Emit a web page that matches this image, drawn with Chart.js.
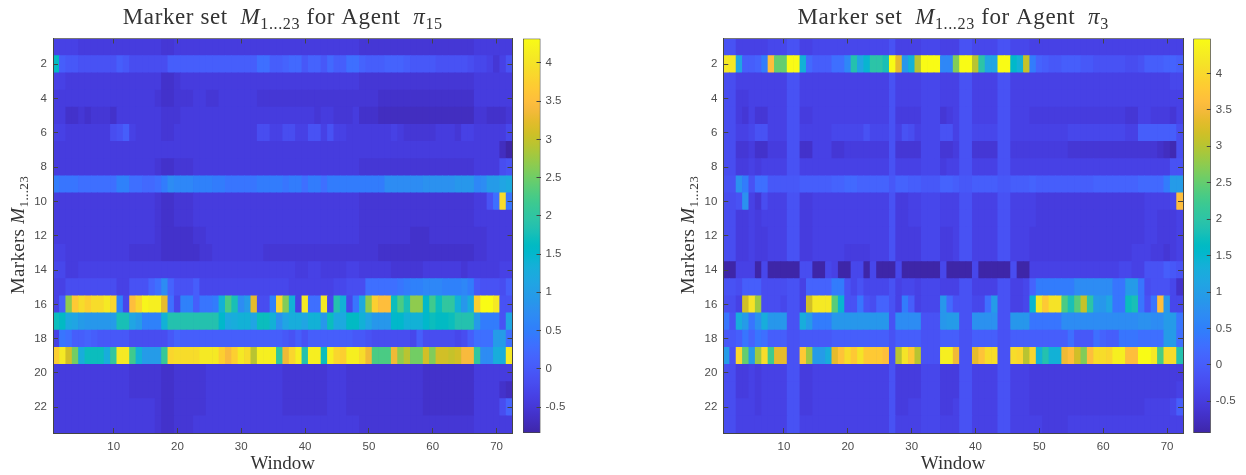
<!DOCTYPE html>
<html lang="en">
<head>
  <meta charset="UTF-8">
  <title>Marker set heatmaps</title>
  <script src="https://cdn.jsdelivr.net/npm/chart.js"></script>
  <style>
    body { margin: 0; background: #fff; }
    canvas { position: absolute; top: 0; filter: blur(0.5px); }
  </style>
</head>
<body>
  <canvas id="heat15" width="520" height="475" style="left:0"></canvas>
  <canvas id="bar15" width="60" height="475" style="left:516px"></canvas>
  <canvas id="heat3" width="520" height="475" style="left:670px"></canvas>
  <canvas id="bar3" width="60" height="475" style="left:1186px"></canvas>

  <script>
    const windowTicks = [10, 20, 30, 40, 50, 60, 70];
    const markerTicks = [2, 4, 6, 8, 10, 12, 14, 16, 18, 20, 22];
    const colorTicks15 = [-0.5, 0, 0.5, 1, 1.5, 2, 2.5, 3, 3.5, 4];
    const colorTicks3 = [-0.5, 0, 0.5, 1, 1.5, 2, 2.5, 3, 3.5, 4];
    const range15 = [-0.84, 4.32];
    const range3 = [-0.935, 4.48];

    // one row per marker (1..23), one value per window (1..72)
    const agent15 = [
      [-.3,-.3,-.35,-.35,-.38,-.38,-.38,-.38,-.38,-.38, -.38,-.38,-.42,-.42,-.42,-.42,-.42,-.5,-.5,-.42, -.4,-.4,-.38,-.38,-.4,-.4,-.38,-.38,-.38,-.38, -.38,-.38,-.38,-.4,-.4,-.42,-.42,-.42,-.42,-.42, -.42,-.42,-.42,-.42,-.4,-.4,-.4,-.42,-.45,-.45, -.45,-.47,-.47,-.47,-.47,-.47,-.47,-.47,-.47,-.47, -.47,-.47,-.47,-.47,-.47,-.47,-.42,-.42,-.4,-.4,-.38,-.38],
      [1.6,.1,0,0,-.05,-.05,-.1,-.1,-.1,-.1, .05,0,-.15,-.15,-.15,-.15,-.15,-.15,.05,.1, .12,.12,.12,.12,.12,.12,.12,.1,.1,.1, .1,.1,.3,.3,.05,.1,.15,.25,.25,0, .2,.2,0,.25,.1,.1,.35,.35,.15,.1, .05,.1,.15,.15,.15,.1,0,0,0,0, -.1,-.1,-.1,-.1,-.1,-.15,-.25,-.25,-.35,-.5,-.35,-.05],
      [-.35,-.35,-.38,-.38,-.4,-.4,-.4,-.4,-.4,-.4, -.38,-.38,-.42,-.42,-.42,-.42,-.42,-.52,-.52,-.45, -.42,-.42,-.4,-.4,-.42,-.42,-.4,-.4,-.4,-.4, -.4,-.4,-.42,-.42,-.42,-.42,-.42,-.42,-.42,-.42, -.42,-.42,-.42,-.42,-.42,-.42,-.42,-.42,-.45,-.45, -.45,-.45,-.45,-.45,-.45,-.45,-.45,-.45,-.45,-.45, -.45,-.45,-.45,-.45,-.45,-.45,-.42,-.42,-.4,-.4,-.38,-.38],
      [-.38,-.38,-.42,-.42,-.42,-.42,-.42,-.42,-.42,-.42, -.4,-.4,-.42,-.42,-.42,-.42,-.45,-.58,-.58,-.5, -.45,-.45,-.42,-.42,-.45,-.45,-.42,-.42,-.42,-.42, -.42,-.42,-.45,-.45,-.45,-.45,-.45,-.45,-.45,-.45, -.45,-.45,-.45,-.45,-.45,-.45,-.45,-.45,-.48,-.48, -.5,-.55,-.55,-.55,-.55,-.55,-.55,-.55,-.55,-.55, -.55,-.55,-.55,-.55,-.52,-.52,-.42,-.42,-.42,-.42,-.4,-.4],
      [-.4,-.42,-.52,-.55,-.48,-.52,-.48,-.48,-.48,-.52, -.42,-.4,-.42,-.4,-.42,-.42,-.42,-.5,-.5,-.45, -.42,-.42,-.4,-.42,-.42,-.42,-.42,-.42,-.42,-.42, -.42,-.42,-.42,-.42,-.42,-.42,-.42,-.42,-.42,-.42, -.42,-.45,-.42,-.42,-.48,-.48,-.45,-.42,-.52,-.55, -.55,-.6,-.6,-.6,-.6,-.62,-.62,-.62,-.6,-.6, -.6,-.6,-.6,-.6,-.6,-.6,-.45,-.45,-.52,-.58,-.58,-.45],
      [-.35,-.35,-.38,-.38,-.4,-.4,-.4,-.4,-.4,-.15, -.05,.05,-.35,-.38,-.38,-.38,-.4,-.45,-.45,-.4, -.42,-.42,-.42,-.42,-.42,-.42,-.42,-.42,-.42,-.42, -.42,-.42,-.15,-.15,-.35,-.3,-.15,-.15,-.3,-.3, -.1,-.1,-.3,-.1,-.3,-.3,-.38,-.38,-.42,-.42, -.42,-.38,-.38,-.35,-.38,-.45,-.45,-.45,-.45,-.45, -.42,-.42,-.42,-.48,-.35,-.35,-.38,-.38,-.38,-.38,-.38,-.2],
      [-.4,-.4,-.42,-.42,-.4,-.4,-.4,-.4,-.4,-.4, -.38,-.38,-.4,-.4,-.4,-.4,-.4,-.42,-.42,-.38, -.38,-.38,-.4,-.4,-.4,-.4,-.42,-.42,-.42,-.42, -.42,-.42,-.38,-.38,-.38,-.38,-.38,-.38,-.38,-.38, -.38,-.38,-.38,-.38,-.4,-.4,-.4,-.4,-.4,-.4, -.42,-.42,-.42,-.42,-.42,-.42,-.42,-.42,-.42,-.42, -.42,-.42,-.42,-.42,-.42,-.42,-.38,-.38,-.38,-.42,-.6,-.8],
      [-.4,-.4,-.42,-.42,-.42,-.42,-.42,-.42,-.42,-.42, -.4,-.4,-.42,-.42,-.42,-.42,-.45,-.52,-.52,-.48, -.45,-.45,-.42,-.42,-.42,-.42,-.42,-.42,-.42,-.42, -.42,-.42,-.42,-.42,-.42,-.42,-.42,-.42,-.42,-.42, -.42,-.42,-.42,-.42,-.42,-.42,-.42,-.42,-.45,-.45, -.45,-.5,-.5,-.5,-.5,-.5,-.5,-.5,-.5,-.5, -.5,-.5,-.5,-.5,-.5,-.5,-.42,-.42,-.4,-.4,-.15,-.05],
      [.5,.38,.4,.38,.35,.35,.33,.33,.35,.35, .55,.55,.3,.3,.25,.25,.3,.5,.7,.65, .62,.62,.6,.6,.55,.5,.45,.42,.42,.42, .42,.42,.5,.5,.45,.45,.42,.48,.48,.35, .52,.52,.35,.45,.45,.45,.5,.5,.5,.45, .45,.45,.72,.75,.75,.72,.72,.72,.82,.82, .85,.85,.85,.88,.9,.9,.65,.7,1.0,1.0,1.1,1.2],
      [-.38,-.38,-.4,-.4,-.4,-.4,-.4,-.4,-.4,-.4, -.38,-.38,-.42,-.42,-.42,-.42,-.45,-.55,-.55,-.5, -.48,-.48,-.42,-.42,-.42,-.42,-.42,-.42,-.42,-.42, -.42,-.42,-.42,-.42,-.42,-.42,-.42,-.42,-.42,-.42, -.42,-.42,-.42,-.42,-.42,-.42,-.42,-.42,-.48,-.48, -.5,-.5,-.5,-.5,-.5,-.5,-.5,-.5,-.5,-.5, -.5,-.5,-.5,-.5,-.5,-.5,-.42,-.42,-.1,.3,3.9,.4],
      [-.38,-.38,-.4,-.4,-.4,-.4,-.4,-.4,-.4,-.4, -.38,-.38,-.42,-.42,-.42,-.42,-.45,-.55,-.55,-.5, -.48,-.45,-.42,-.42,-.42,-.42,-.42,-.42,-.42,-.42, -.42,-.42,-.42,-.42,-.42,-.42,-.42,-.42,-.42,-.42, -.42,-.42,-.42,-.42,-.42,-.42,-.42,-.42,-.48,-.48, -.48,-.5,-.5,-.5,-.5,-.5,-.5,-.5,-.5,-.5, -.5,-.5,-.5,-.5,-.5,-.5,-.42,-.42,-.42,-.42,-.42,-.42],
      [-.38,-.38,-.4,-.4,-.4,-.4,-.4,-.4,-.4,-.4, -.38,-.38,-.42,-.42,-.42,-.42,-.45,-.55,-.55,-.52, -.52,-.52,-.5,-.48,-.42,-.42,-.42,-.42,-.42,-.42, -.42,-.42,-.42,-.42,-.42,-.42,-.42,-.42,-.42,-.42, -.42,-.42,-.42,-.42,-.42,-.42,-.42,-.42,-.48,-.48, -.48,-.5,-.5,-.5,-.5,-.5,-.52,-.52,-.52,-.5, -.5,-.5,-.5,-.5,-.5,-.5,-.45,-.45,-.42,-.42,-.42,-.42],
      [-.35,-.35,-.4,-.4,-.4,-.4,-.4,-.4,-.4,-.4, -.38,-.38,-.45,-.45,-.45,-.45,-.45,-.55,-.55,-.55, -.55,-.52,-.52,-.5,-.48,-.42,-.42,-.42,-.42,-.42, -.42,-.42,-.42,-.45,-.45,-.45,-.45,-.45,-.45,-.45, -.45,-.45,-.45,-.45,-.45,-.45,-.45,-.45,-.5,-.5, -.5,-.52,-.55,-.55,-.55,-.55,-.55,-.55,-.55,-.55, -.55,-.55,-.55,-.58,-.55,-.55,-.45,-.45,-.42,-.42,-.42,-.42],
      [-.25,-.25,-.38,-.38,-.35,-.35,-.35,-.35,-.35,-.35, -.32,-.32,-.32,-.32,-.32,-.32,-.32,-.32,-.32,-.3, -.3,-.3,-.3,-.28,-.28,-.32,-.32,-.35,-.35,-.35, -.35,-.35,-.35,-.35,-.35,-.35,-.35,-.35,-.38,-.38, -.35,-.35,-.38,-.38,-.38,-.38,-.35,-.35,-.38,-.38, -.42,-.42,-.42,-.45,-.45,-.45,-.45,-.45,-.42,-.42, -.42,-.42,-.42,-.42,-.5,-.42,-.42,-.42,-.42,-.42,-.28,-.28],
      [-.35,-.35,-.15,-.15,-.12,-.12,-.12,-.12,-.15,-.15, -.28,-.28,-.05,-.05,-.05,.2,.3,.75,.15,-.1, -.08,-.05,.05,-.2,-.2,-.22,-.22,-.22,-.22,-.22, -.22,-.25,-.25,-.25,-.25,-.25,-.25,-.3,-.32,-.28, -.35,-.35,-.32,-.35,-.25,-.22,-.15,-.15,-.15,.3, .3,.32,.32,.32,.38,.45,.55,.6,.62,.62, .62,.58,.55,.55,.62,.45,0,-.05,-.05,-.1,-.15,.05],
      [-.3,.1,2.7,3.6,3.9,3.7,3.85,3.85,4.0,3.8, .6,-.2,3.5,3.8,4.2,4.15,4.15,3.2,.3,-.2, .55,.55,.1,.4,.4,.5,1.4,2.3,1.8,.7, 1.0,3.2,-.15,-.15,.6,3.8,2.6,1.4,-.3,4.0, .3,.3,4.0,-.2,1.9,1.4,-.2,.4,1.2,2.7, 3.7,3.5,3.5,1.7,2.3,1.8,2.7,2.7,1.5,2.2, 1.7,2.0,2.0,1.4,.9,1.3,3.7,4.25,4.25,4.0,-.1,-.05],
      [1.7,1.6,1.2,1.1,1.0,.9,.9,.9,.9,1.0, 1.8,1.8,1.1,1.0,.6,.6,.6,1.4,1.9,1.9, 1.9,1.9,1.9,1.9,1.9,1.9,1.5,1.2,1.3,1.4, 1.4,1.1,1.7,1.7,1.4,.8,1.1,1.3,1.3,1.1, 1.4,1.4,.9,1.7,1.2,1.2,1.6,1.6,1.4,1.1, .9,.9,.9,1.5,1.5,1.4,1.4,1.4,1.5,1.7, 1.6,1.6,1.7,1.9,1.9,1.9,1.0,.45,.45,.45,-.05,1.1],
      [-.35,.4,.35,.12,.1,.15,.05,0,0,0, -.02,-.02,-.15,-.15,-.15,-.15,-.15,-.15,0,.2, .12,.12,.08,.08,.08,.05,.05,.05,.05,.05, .05,.05,.05,.05,.05,.05,0,-.05,.05,-.05, .05,.05,.1,.1,.1,.1,.05,0,0,-.1, -.12,-.12,-.12,-.12,-.12,-.15,-.2,.05,-.15,-.15, -.15,-.15,-.15,-.2,-.15,.05,.35,.35,.3,.95,.95,.35],
      [3.7,4.0,3.1,2.5,1.3,1.7,1.7,1.7,1.3,2.0, 4.0,4.05,2.2,1.4,1.0,1.0,1.0,2.1,3.8,3.85, 3.85,3.85,3.9,4.0,4.0,4.0,3.7,3.4,3.7,4.0, 3.9,2.9,4.15,4.15,4.15,2.0,3.3,3.8,4.1,1.9, 4.15,4.15,1.7,4.15,3.8,3.7,4.1,4.1,3.85,3.3, 2.3,2.3,2.3,3.3,2.7,2.9,2.5,2.5,3.1,2.6, 3.1,3.1,3.0,3.1,3.4,3.4,2.0,.7,.7,1.3,1.3,4.0],
      [-.4,-.4,-.42,-.42,-.42,-.42,-.42,-.42,-.42,-.42, -.38,-.38,-.45,-.45,-.45,-.45,-.48,-.55,-.55,-.5, -.48,-.48,-.45,-.45,-.42,-.42,-.42,-.42,-.42,-.42, -.42,-.42,-.42,-.42,-.42,-.42,-.45,-.45,-.45,-.45, -.45,-.45,-.45,-.42,-.42,-.42,-.45,-.45,-.48,-.48, -.5,-.5,-.5,-.5,-.5,-.5,-.5,-.5,-.52,-.52, -.52,-.52,-.52,-.52,-.52,-.52,-.42,-.42,-.42,-.42,-.42,-.42],
      [-.4,-.4,-.42,-.42,-.42,-.42,-.42,-.42,-.42,-.42, -.38,-.38,-.45,-.45,-.45,-.45,-.48,-.55,-.55,-.5, -.48,-.48,-.45,-.45,-.42,-.42,-.42,-.42,-.42,-.42, -.42,-.42,-.42,-.42,-.42,-.42,-.45,-.45,-.45,-.45, -.45,-.45,-.45,-.42,-.42,-.42,-.45,-.45,-.48,-.48, -.5,-.5,-.5,-.5,-.5,-.5,-.5,-.5,-.52,-.52, -.52,-.52,-.52,-.52,-.52,-.52,-.42,-.42,-.42,-.42,-.55,-.62],
      [-.4,-.4,-.42,-.42,-.4,-.4,-.42,-.42,-.42,-.42, -.38,-.38,-.42,-.42,-.42,-.42,-.48,-.52,-.52,-.5, -.48,-.48,-.45,-.45,-.42,-.42,-.42,-.42,-.42,-.42, -.42,-.42,-.42,-.42,-.42,-.42,-.45,-.45,-.45,-.45, -.45,-.45,-.45,-.42,-.42,-.42,-.45,-.45,-.48,-.48, -.5,-.5,-.5,-.5,-.5,-.5,-.5,-.5,-.52,-.52, -.52,-.52,-.52,-.52,-.52,-.52,-.42,-.42,-.42,-.42,-.15,.15],
      [-.38,-.38,-.4,-.4,-.38,-.38,-.4,-.4,-.4,-.4, -.38,-.38,-.42,-.42,-.42,-.42,-.45,-.52,-.52,-.48, -.45,-.45,-.42,-.42,-.42,-.42,-.42,-.42,-.42,-.42, -.42,-.42,-.42,-.42,-.42,-.42,-.42,-.42,-.42,-.42, -.42,-.42,-.42,-.42,-.42,-.42,-.42,-.42,-.45,-.45, -.48,-.48,-.48,-.48,-.48,-.48,-.48,-.48,-.5,-.5, -.5,-.5,-.5,-.5,-.5,-.5,-.42,-.42,-.4,-.4,-.4,-.4]
    ];

    const agent3 = [
      [-.15,-.15,-.35,-.35,-.35,-.38,-.35,-.32,-.32,-.32, -.12,-.12,-.35,-.35,-.32,-.32,-.32,-.32,-.32,-.32, -.32,-.32,-.32,-.32,-.32,-.32,-.12,-.35,-.35,-.35, -.35,-.3,-.3,-.3,-.35,-.35,-.35,-.15,-.15,-.32, -.32,-.32,-.32,-.12,-.12,-.32,-.32,-.32,-.35,-.35, -.38,-.38,-.38,-.38,-.38,-.38,-.38,-.38,-.38,-.38, -.38,-.38,-.38,-.38,-.38,-.38,-.38,-.38,-.38,-.38,-.38,-.38],
      [4.2,4.2,1.1,0,0,.1,.5,3.6,2.5,2.5, 4.5,4.5,1.4,.2,0,0,0,.25,.25,.6, 1.9,1.1,1.5,2.0,2.0,1.8,4.5,3.3,.9,1.4, 3.0,4.5,4.5,4.5,.6,.6,2.7,4.5,4.5,3.0, 2.0,1.1,1.1,4.5,4.5,1.6,1.4,3.1,.5,.1, .05,-.05,-.05,0,0,0,-.05,-.05,-.1,-.1, -.1,-.1,-.15,-.2,-.2,-.1,0,0,0,.15,.15,.05],
      [-.18,-.18,-.42,-.42,-.38,-.42,-.4,-.38,-.38,-.38, -.15,-.15,-.42,-.42,-.35,-.35,-.35,-.35,-.35,-.35, -.35,-.35,-.35,-.35,-.35,-.35,-.15,-.4,-.4,-.4, -.4,-.32,-.32,-.32,-.42,-.42,-.4,-.15,-.15,-.35, -.35,-.35,-.35,-.15,-.15,-.35,-.35,-.35,-.4,-.4, -.42,-.42,-.42,-.42,-.42,-.42,-.42,-.42,-.42,-.42, -.42,-.42,-.42,-.42,-.42,-.42,-.38,-.38,-.38,-.38,-.3,-.3],
      [-.18,-.18,-.45,-.45,-.38,-.42,-.42,-.38,-.38,-.38, -.15,-.15,-.42,-.42,-.35,-.35,-.35,-.35,-.35,-.35, -.35,-.35,-.35,-.35,-.35,-.35,-.15,-.4,-.4,-.4, -.4,-.32,-.32,-.32,-.42,-.42,-.4,-.15,-.15,-.35, -.35,-.35,-.35,-.15,-.15,-.35,-.35,-.35,-.4,-.4, -.42,-.42,-.42,-.42,-.42,-.42,-.42,-.42,-.42,-.42, -.42,-.42,-.42,-.42,-.42,-.42,-.42,-.42,-.42,-.42,-.42,-.42],
      [-.18,-.18,-.45,-.52,-.42,-.55,-.55,-.42,-.42,-.42, -.15,-.15,-.45,-.45,-.38,-.38,-.38,-.38,-.38,-.38, -.38,-.38,-.38,-.38,-.38,-.38,-.15,-.45,-.45,-.45, -.45,-.32,-.32,-.32,-.52,-.5,-.42,-.15,-.15,-.35, -.35,-.42,-.35,-.15,-.15,-.38,-.38,-.38,-.45,-.45, -.45,-.45,-.45,-.48,-.5,-.5,-.5,-.5,-.48,-.48, -.48,-.48,-.48,-.55,-.55,-.42,-.42,-.48,-.48,-.48,-.52,-.42],
      [-.18,-.18,-.4,-.38,-.3,-.12,-.12,-.35,-.35,-.35, -.15,-.15,-.38,-.38,-.35,-.35,-.35,-.32,-.32,-.32, -.32,-.32,-.15,-.28,-.28,-.3,-.15,-.35,-.15,-.2, -.35,-.28,-.28,-.28,-.12,-.15,-.35,-.15,-.15,-.32, -.32,-.32,-.32,-.15,-.15,-.35,-.35,-.35,-.38,-.38, -.35,-.35,-.35,-.35,-.3,-.3,-.3,-.28,-.28,-.28, -.3,-.3,-.3,-.35,-.35,0,0,0,.05,.05,.05,-.2],
      [-.18,-.18,-.55,-.58,-.45,-.65,-.65,-.5,-.5,-.5, -.15,-.15,-.62,-.62,-.42,-.42,-.42,-.55,-.55,-.5, -.5,-.5,-.5,-.5,-.5,-.5,-.15,-.58,-.58,-.52, -.52,-.32,-.32,-.32,-.58,-.58,-.48,-.15,-.15,-.55, -.55,-.55,-.55,-.15,-.15,-.48,-.48,-.48,-.45,-.45, -.48,-.48,-.48,-.48,-.58,-.58,-.58,-.58,-.55,-.55, -.58,-.58,-.58,-.58,-.58,-.58,-.55,-.55,-.6,-.7,-.78,-.2],
      [-.18,-.18,-.45,-.45,-.38,-.45,-.42,-.42,-.42,-.42, -.15,-.15,-.42,-.42,-.38,-.38,-.38,-.38,-.38,-.38, -.38,-.38,-.38,-.38,-.38,-.38,-.15,-.42,-.42,-.42, -.42,-.32,-.32,-.32,-.45,-.42,-.42,-.15,-.15,-.38, -.38,-.38,-.38,-.15,-.15,-.38,-.38,-.38,-.42,-.42, -.42,-.42,-.42,-.42,-.42,-.42,-.42,-.42,-.42,-.42, -.42,-.42,-.42,-.42,-.42,-.42,-.42,-.42,-.42,-.42,-.1,-.1],
      [-.12,-.12,.8,.45,-.1,.25,.25,-.05,-.05,-.05, -.05,-.05,.05,.08,.08,.08,.08,.1,.1,.18, .18,.12,.1,.1,.1,.1,-.05,.1,.1,.05, .05,-.08,-.08,-.08,.12,.12,.05,-.05,-.05,.05, .05,.05,.05,-.05,-.05,.08,.08,.08,.12,.05, .02,.02,.05,.05,.05,.05,.08,.08,.1,.1, .1,.12,.12,.12,.15,.2,.2,.2,.2,.5,.95,.95],
      [-.18,-.18,-.12,.8,-.38,-.55,-.25,-.42,-.42,-.42, -.15,-.15,-.45,-.45,-.4,-.4,-.4,-.4,-.4,-.4, -.4,-.4,-.4,-.4,-.4,-.4,-.15,-.45,-.45,-.42, -.42,-.32,-.32,-.32,-.42,-.42,-.42,-.15,-.15,-.38, -.38,-.38,-.38,-.15,-.15,-.38,-.38,-.38,-.42,-.45, -.45,-.45,-.45,-.45,-.45,-.45,-.45,-.45,-.45,-.45, -.45,-.45,-.45,-.45,-.45,-.45,-.42,-.42,-.42,-.42,-.3,3.6],
      [-.18,-.18,-.5,-.5,-.38,-.45,-.42,-.42,-.42,-.42, -.15,-.15,-.45,-.45,-.4,-.4,-.4,-.4,-.4,-.4, -.4,-.4,-.4,-.4,-.4,-.4,-.15,-.45,-.45,-.42, -.42,-.32,-.32,-.32,-.42,-.42,-.42,-.15,-.15,-.38, -.38,-.38,-.38,-.15,-.15,-.38,-.38,-.38,-.42,-.45, -.45,-.45,-.45,-.45,-.45,-.45,-.45,-.45,-.45,-.45, -.45,-.45,-.45,-.45,-.45,-.45,-.42,-.42,-.45,-.45,-.45,-.42],
      [-.18,-.18,-.5,-.5,-.42,-.45,-.45,-.42,-.42,-.42, -.15,-.15,-.45,-.45,-.42,-.42,-.38,-.42,-.42,-.42, -.42,-.42,-.42,-.42,-.42,-.42,-.15,-.45,-.45,-.45, -.45,-.32,-.32,-.32,-.45,-.45,-.42,-.15,-.15,-.4, -.4,-.4,-.4,-.15,-.15,-.4,-.4,-.4,-.45,-.45, -.45,-.45,-.45,-.45,-.45,-.45,-.45,-.45,-.45,-.45, -.45,-.45,-.45,-.45,-.45,-.45,-.42,-.42,-.45,-.45,-.45,-.42],
      [-.18,-.18,-.5,-.5,-.42,-.5,-.45,-.42,-.42,-.42, -.15,-.15,-.5,-.5,-.42,-.42,-.38,-.42,-.42,-.45, -.45,-.45,-.45,-.42,-.42,-.42,-.15,-.45,-.45,-.45, -.45,-.32,-.32,-.32,-.45,-.45,-.42,-.15,-.15,-.4, -.4,-.4,-.4,-.15,-.15,-.4,-.4,-.4,-.45,-.5, -.5,-.45,-.45,-.45,-.45,-.45,-.45,-.5,-.5,-.45, -.45,-.45,-.45,-.45,-.42,-.42,-.42,-.5,-.5,-.52,-.5,-.42],
      [-.9,-.9,-.38,-.38,-.38,-.9,-.3,-.9,-.9,-.9, -.9,-.9,-.2,-.2,-.9,-.9,-.3,-.35,-.9,-.9, -.3,-.3,-.9,-.3,-.9,-.9,-.9,-.3,-.9,-.9, -.9,-.9,-.9,-.9,-.3,-.9,-.9,-.9,-.9,-.3, -.9,-.9,-.9,-.9,-.9,-.25,-.9,-.9,-.35,-.35, -.35,-.35,-.35,-.38,-.38,-.35,-.35,-.38,-.38,-.35, -.35,-.35,-.32,-.32,-.35,-.35,-.1,-.1,-.15,0,-.05,-.1],
      [-.1,-.1,-.2,0,0,0,-.2,-.2,-.2,-.2, -.15,-.15,-.35,.1,.1,.1,.1,.5,.5,-.1, -.3,-.1,-.3,-.3,-.3,-.3,-.12,-.35,-.3,-.3, -.35,-.3,-.3,-.3,-.35,-.35,-.35,-.15,-.15,-.35, -.35,-.35,-.35,-.15,-.15,-.35,-.35,-.3,.1,.5, .5,.5,.5,.5,.5,.75,.75,.75,.75,.75, .75,.4,.4,1.0,1.0,.4,-.2,-.1,-.1,-.1,-.3,-.6],
      [-.2,-.2,-.4,3.2,4.1,2.8,-.2,-.25,-.25,-.3, -.15,-.15,-.35,3.2,4.2,4.2,4.2,2.4,1.5,-.15, -.15,.35,-.15,-.2,.1,.1,-.12,-.35,.5,0, -.35,-.3,-.3,-.3,.9,.2,-.1,-.15,-.15,-.3, -.3,.3,1.0,-.15,-.15,-.35,-.35,-.3,1.5,4.2, 3.8,4.1,4.1,2.3,1.8,2.4,3.1,2.0,1.0,.9, 1.1,.4,.4,1.7,1.8,.4,-.15,.4,3.6,.9,-.3,-.3],
      [.4,-.15,1.3,1.0,.4,.8,1.3,.85,.85,.85, -.1,-.1,1.3,1.0,.5,.5,.5,.9,.9,.9, .9,.9,.9,.9,.9,.9,-.1,.7,.7,.7, .7,-.1,-.1,-.1,.85,1.0,1.0,-.1,-.1,.8, .8,.8,.8,-.1,-.1,.9,.9,.9,.4,.4, .4,.4,.4,.75,.75,.75,.7,.7,.75,.75, .75,.75,.75,.75,.75,.8,.8,.75,.7,1.0,1.0,.4],
      [-.05,-.05,0,.4,.15,.35,.25,0,0,0, -.1,-.1,-.02,-.02,-.02,-.02,-.02,0,0,0, 0,0,0,0,0,0,-.1,0,0,0, 0,-.1,-.1,-.1,0,0,0,-.12,-.12,0, 0,0,0,-.1,-.1,0,0,0,0,0, 0,0,0,0,.3,-.05,-.05,-.05,.3,.15, 0,0,.35,.35,.35,.3,.3,.3,.3,1.0,1.0,.3],
      [1.0,-.1,3.9,2.5,1.0,2.8,4.0,2.2,3.3,3.3, -.1,-.1,3.8,2.8,1.0,1.0,1.3,3.3,3.7,4.0, 3.8,4.1,3.8,3.8,3.8,3.6,-.1,3.0,4.1,3.8, 3.0,-.1,-.1,-.1,4.3,4.3,3.4,-.1,-.1,3.3, 3.7,4.0,4.0,-.1,-.1,4.0,3.9,3.0,3.9,1.4, 1.9,1.4,1.4,3.4,3.6,3.2,2.7,3.6,4.0,4.0, 3.9,4.3,4.3,3.6,3.6,4.4,4.4,4.2,2.3,4.0,4.0,1.9],
      [-.18,-.18,-.45,-.45,-.42,-.48,-.42,-.42,-.42,-.42, -.15,-.15,-.48,-.48,-.42,-.42,-.42,-.42,-.42,-.42, -.42,-.42,-.42,-.42,-.42,-.42,-.15,-.48,-.48,-.45, -.45,-.32,-.32,-.32,-.48,-.48,-.45,-.15,-.15,-.42, -.42,-.42,-.42,-.15,-.15,-.42,-.42,-.42,-.48,-.5, -.5,-.5,-.5,-.5,-.48,-.48,-.48,-.48,-.48,-.48, -.48,-.48,-.48,-.48,-.48,-.48,-.45,-.45,-.45,-.45,-.45,-.45],
      [-.18,-.18,-.45,-.45,-.42,-.48,-.42,-.42,-.42,-.42, -.15,-.15,-.48,-.48,-.42,-.42,-.42,-.42,-.42,-.42, -.42,-.42,-.42,-.42,-.42,-.42,-.15,-.48,-.48,-.45, -.45,-.32,-.32,-.32,-.48,-.48,-.45,-.15,-.15,-.42, -.42,-.42,-.42,-.15,-.15,-.42,-.42,-.42,-.48,-.5, -.5,-.5,-.5,-.5,-.48,-.48,-.48,-.48,-.48,-.48, -.48,-.48,-.48,-.48,-.48,-.48,-.45,-.45,-.45,-.45,-.45,-.4],
      [-.18,-.18,-.42,-.42,-.4,-.45,-.4,-.4,-.4,-.4, -.15,-.15,-.45,-.45,-.4,-.4,-.4,-.4,-.4,-.4, -.4,-.4,-.4,-.4,-.4,-.4,-.15,-.45,-.45,-.42, -.42,-.32,-.32,-.32,-.45,-.45,-.42,-.15,-.15,-.4, -.4,-.4,-.4,-.15,-.15,-.4,-.4,-.4,-.45,-.45, -.48,-.48,-.48,-.48,-.45,-.45,-.45,-.45,-.45,-.45, -.45,-.45,-.45,-.45,-.45,-.45,-.42,-.42,-.42,-.42,-.3,.0],
      [-.18,-.18,-.4,-.4,-.38,-.42,-.4,-.38,-.38,-.38, -.15,-.15,-.42,-.42,-.38,-.38,-.38,-.38,-.38,-.38, -.38,-.38,-.38,-.38,-.38,-.38,-.15,-.42,-.42,-.4, -.4,-.32,-.32,-.32,-.42,-.42,-.4,-.15,-.15,-.38, -.38,-.38,-.38,-.15,-.15,-.38,-.38,-.38,-.42,-.42, -.45,-.45,-.45,-.45,-.42,-.42,-.42,-.42,-.42,-.42, -.42,-.42,-.42,-.42,-.42,-.42,-.4,-.4,-.4,-.4,-.38,-.38]
    ];

    // matlab parula, 64 steps
    const parula = [
      [.2422,.1504,.6603],[.2504,.1650,.7076],[.2578,.1818,.7511],[.2647,.1978,.7952],[.2706,.2147,.8364],[.2751,.2342,.8710],[.2783,.2559,.8991],[.2803,.2782,.9221],
      [.2813,.3006,.9414],[.2810,.3228,.9579],[.2795,.3447,.9717],[.2760,.3667,.9829],[.2699,.3892,.9906],[.2602,.4123,.9952],[.2440,.4358,.9988],[.2206,.4603,.9973],
      [.1963,.4847,.9892],[.1834,.5074,.9798],[.1786,.5289,.9682],[.1764,.5499,.9520],[.1687,.5703,.9359],[.1540,.5902,.9218],[.1460,.6091,.9079],[.1380,.6276,.8973],
      [.1248,.6459,.8883],[.1113,.6635,.8763],[.0952,.6798,.8598],[.0689,.6948,.8394],[.0297,.7082,.8163],[.0036,.7203,.7917],[.0067,.7312,.7660],[.0433,.7411,.7394],
      [.0964,.7500,.7120],[.1408,.7584,.6842],[.1717,.7670,.6554],[.1938,.7758,.6251],[.2161,.7843,.5923],[.2470,.7918,.5567],[.2906,.7973,.5188],[.3406,.8008,.4789],
      [.3909,.8029,.4354],[.4456,.8024,.3909],[.5044,.7993,.3480],[.5616,.7942,.3045],[.6174,.7876,.2612],[.6720,.7793,.2227],[.7242,.7698,.1910],[.7738,.7598,.1646],
      [.8203,.7498,.1535],[.8634,.7406,.1596],[.9035,.7330,.1774],[.9393,.7288,.2100],[.9728,.7298,.2394],[.9956,.7434,.2371],[.9970,.7659,.2199],[.9952,.7893,.2028],
      [.9892,.8136,.1885],[.9786,.8386,.1766],[.9676,.8639,.1643],[.9610,.8890,.1537],[.9597,.9135,.1423],[.9628,.9373,.1265],[.9691,.9606,.1064],[.9769,.9839,.0805]
    ];

    function rgb(c) {
      return 'rgb(' + c.map(v => Math.round(v * 255)).join(',') + ')';
    }

    function valueColor(v, range) {
      let i = Math.floor((v - range[0]) / (range[1] - range[0]) * parula.length);
      i = Math.max(0, Math.min(parula.length - 1, i));
      return rgb(parula[i]);
    }

    const tickColor = '#4d4d4d';
    const axisColor = '#444';
    const tickFont = { family: 'Liberation Sans', size: 11.5 };
    const serif = '"Liberation Serif"';

    // titles have italics and subscripts, canvas text pieces are needed for that
    function drawPieces(ctx, pieces, x, y, angle, size, spacing) {
      ctx.save();
      ctx.translate(x, y);
      ctx.rotate(angle);
      ctx.fillStyle = '#333';
      ctx.textBaseline = 'alphabetic';
      ctx.textAlign = 'left';
      ctx.letterSpacing = spacing + 'px';
      const fonts = pieces.map(p => {
        const s = p.sub ? size * 0.7 : size;
        return (p.italic ? 'italic ' : '') + s + 'px ' + serif;
      });
      let total = 0;
      pieces.forEach((p, i) => { ctx.font = fonts[i]; total += ctx.measureText(p.text).width; });
      let px = -total / 2;
      pieces.forEach((p, i) => {
        ctx.font = fonts[i];
        ctx.fillText(p.text, px, p.sub ? size * 0.22 : 0);
        px += ctx.measureText(p.text).width;
      });
      ctx.restore();
    }

    function heatmap(id, rows, range, box, agent) {
      const points = [];
      const colors = [];
      rows.forEach((row, r) => {
        row.forEach((v, c) => {
          points.push({ x: c + 1, y: [r + 0.5, r + 1.5] });
          colors.push(valueColor(v, range));
        });
      });

      const setWindowTicks = axis => { axis.ticks = windowTicks.map(v => ({ value: v })); };
      const setMarkerTicks = axis => { axis.ticks = markerTicks.map(v => ({ value: v })); };
      const grid = { drawOnChartArea: false, tickLength: -5, tickColor: axisColor, z: 1 };
      const border = { color: axisColor, width: 1, z: 1 };

      const labels = {
        id: 'richLabels',
        // fills the hairlines between neighbouring cells
        beforeDatasetsDraw(chart) {
          const a = chart.chartArea;
          chart.ctx.save();
          chart.ctx.fillStyle = valueColor(-0.42, range);
          chart.ctx.fillRect(a.left, a.top, a.right - a.left, a.bottom - a.top);
          chart.ctx.restore();
        },
        afterDraw(chart) {
          const a = chart.chartArea;
          const cx = (a.left + a.right) / 2;
          drawPieces(chart.ctx, [
            { text: 'Marker set  ' }, { text: 'M', italic: true }, { text: '1...23', sub: true },
            { text: ' for Agent  ' }, { text: 'π', italic: true }, { text: agent, sub: true }
          ], cx, 24, 0, 23, 0.6);
          drawPieces(chart.ctx, [
            { text: 'Markers ' }, { text: 'M', italic: true }, { text: '1...23', sub: true }
          ], box.left - 29, 235, -Math.PI / 2, 19, 0.3);
        }
      };

      new Chart(document.getElementById(id), {
        type: 'bar',
        data: {
          datasets: [{
            data: points,
            backgroundColor: colors,
            borderWidth: 0,
            barPercentage: 1,
            categoryPercentage: 1,
            xAxisID: 'x',
            yAxisID: 'y'
          }]
        },
        options: {
          responsive: false,
          animation: false,
          layout: { padding: 0 },
          plugins: { legend: { display: false }, tooltip: { enabled: false } },
          scales: {
            x: {
              type: 'linear', position: 'bottom', offset: false, min: 0.5, max: 72.5,
              afterBuildTicks: setWindowTicks,
              afterFit: s => { s.height = 475 - 433; },
              grid: { ...grid, offset: false }, border,
              ticks: { color: tickColor, font: tickFont, padding: 12, maxRotation: 0, autoSkip: false, callback: v => String(v) },
              title: { display: true, text: 'Window', color: '#333', font: { family: 'Liberation Serif', size: 19 }, padding: { top: 0, bottom: 0 } }
            },
            x2: {
              type: 'linear', position: 'top', offset: false, min: 0.5, max: 72.5,
              afterBuildTicks: setWindowTicks,
              afterFit: s => { s.height = 38.5; },
              grid: { ...grid, offset: false }, border: { ...border, color: '#777' },
              ticks: { display: false }
            },
            y: {
              type: 'linear', position: 'left', reverse: true, min: 0.5, max: 23.5,
              afterBuildTicks: setMarkerTicks,
              afterFit: s => { s.width = box.left; },
              grid, border,
              ticks: { color: tickColor, font: tickFont, padding: 11, autoSkip: false, callback: v => String(v) }
            },
            y2: {
              type: 'linear', position: 'right', reverse: true, min: 0.5, max: 23.5,
              afterBuildTicks: setMarkerTicks,
              afterFit: s => { s.width = box.right; },
              grid, border,
              ticks: { display: false }
            }
          }
        },
        plugins: [labels]
      });
    }

    function colorbar(id, range, ticks, padLeft) {
      new Chart(document.getElementById(id), {
        type: 'bar',
        data: {
          labels: [''],
          datasets: [{
            data: [[range[0], range[1]]],
            barPercentage: 1,
            categoryPercentage: 1,
            borderWidth: 1,
            borderColor: axisColor,
            borderSkipped: false,
            backgroundColor: ctx => {
              const area = ctx.chart.chartArea;
              if (!area) return parula[0];
              const g = ctx.chart.ctx.createLinearGradient(0, area.bottom, 0, area.top);
              parula.forEach((c, i) => g.addColorStop(i / (parula.length - 1), rgb(c)));
              return g;
            }
          }]
        },
        options: {
          responsive: false,
          animation: false,
          layout: { padding: { left: padLeft, top: 38.5, bottom: 42 } },
          plugins: { legend: { display: false }, tooltip: { enabled: false } },
          scales: {
            x: { display: false },
            y: {
              position: 'right', min: range[0], max: range[1],
              afterBuildTicks: axis => { axis.ticks = ticks.map(v => ({ value: v })); },
              afterFit: s => { s.width = 60 - padLeft - 17.5; },
              grid: { drawOnChartArea: false, tickLength: -4, tickColor: axisColor, z: 1 },
              border: { display: false },
              ticks: { color: tickColor, font: tickFont, padding: 9, autoSkip: false, callback: v => String(v) }
            }
          }
        }
      });
    }

    heatmap('heat15', agent15, range15, { left: 53, right: 7.5 }, '15');
    colorbar('bar15', range15, colorTicks15, 7);
    heatmap('heat3', agent3, range3, { left: 53.3, right: 7 }, '3');
    colorbar('bar3', range3, colorTicks3, 7.3);
  </script>
</body>
</html>
